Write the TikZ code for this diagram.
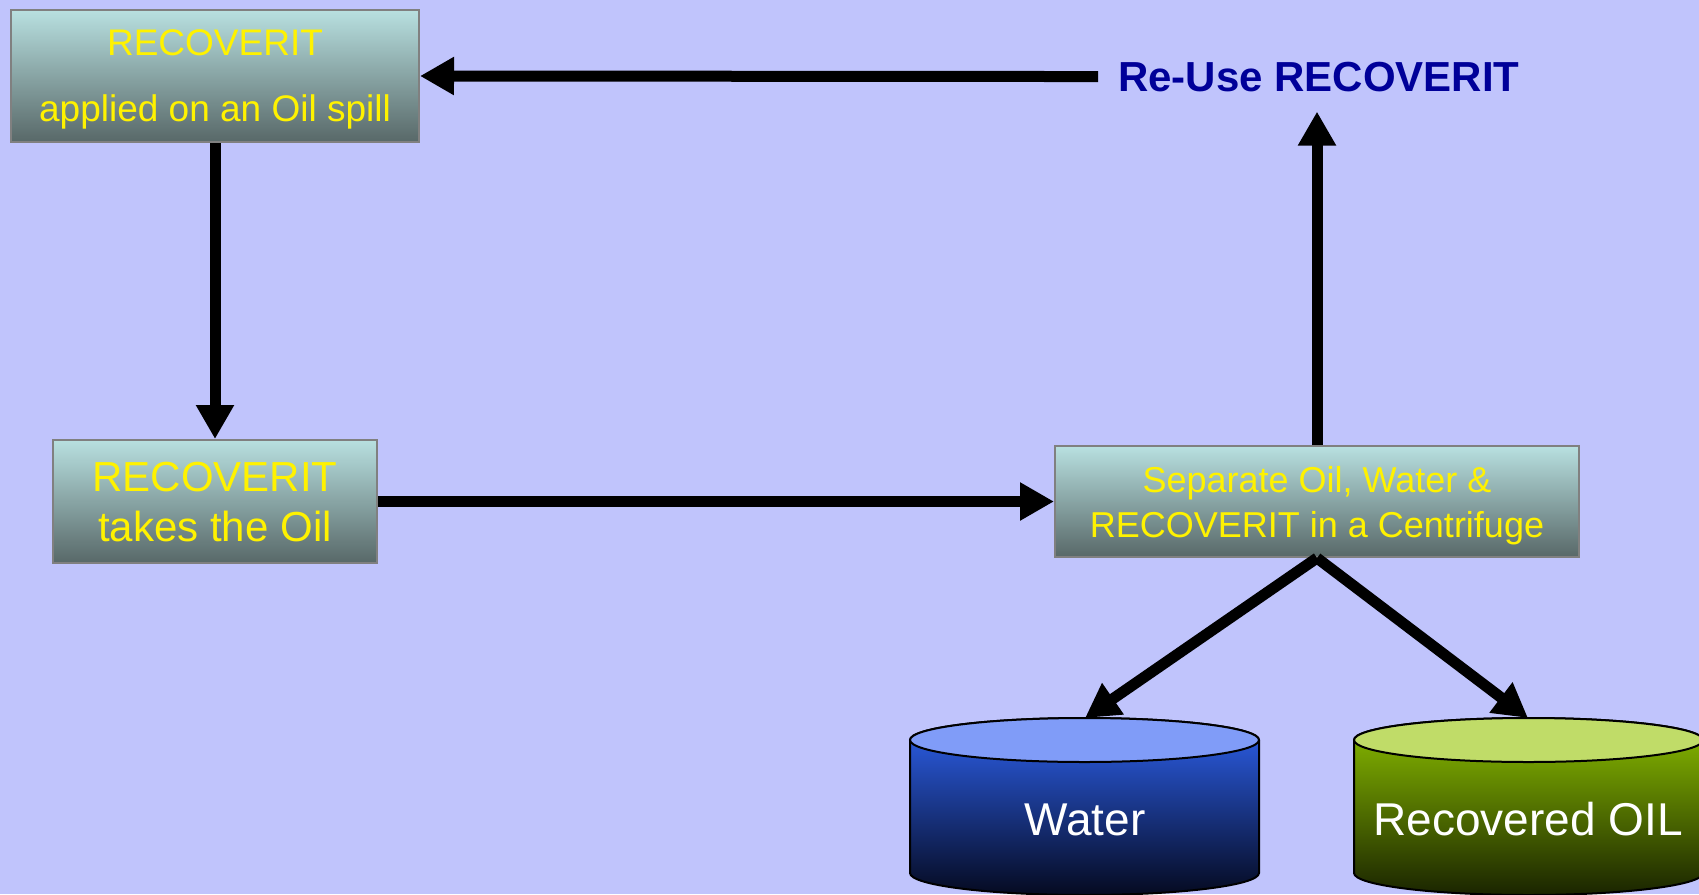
\documentclass[tikz,border=0pt]{standalone}
\usepackage{fontspec}
\setmainfont{Liberation Sans}
\usetikzlibrary{arrows.meta,positioning,calc}
\usepackage{xcolor}

\definecolor{bgblue}{RGB}{192,196,252}
\definecolor{boxtop}{RGB}{184,224,224}
\definecolor{boxmid}{RGB}{150,186,188}
\definecolor{boxbot}{RGB}{88,104,104}
\definecolor{boxedge}{RGB}{128,128,128}
\definecolor{reuseblue}{RGB}{0,0,153}
\definecolor{watertop}{RGB}{128,156,248}
\definecolor{waterhi}{RGB}{46,98,240}
\definecolor{watermid}{RGB}{38,74,196}
\definecolor{waterlo}{RGB}{5,10,32}
\definecolor{oiltop}{RGB}{192,220,104}
\definecolor{oilhi}{RGB}{140,192,0}
\definecolor{oilmid}{RGB}{112,156,0}
\definecolor{oillo}{RGB}{26,36,0}

\begin{document}
\begin{tikzpicture}[x=1pt, y=1pt,
    procbox/.style={draw=boxedge, line width=2pt, top color=boxtop, middle color=boxmid,
        bottom color=boxbot, text=yellow, align=center, inner sep=0pt, text depth=0pt},
    flow/.style={line width=11pt, -{Triangle[length=34pt,width=36pt]}},
    tankside/.style={draw=black, line width=2pt},
    tanklabel/.style={text=white, anchor=base, font=\fontsize{46}{50}\selectfont}
  ]
    % Background
    \fill[bgblue] (0,0) rectangle (1699,-894);
    \useasboundingbox (0,0) rectangle (1699,-894);

    % Process boxes
    \node[procbox, minimum width=408pt, minimum height=132pt,
        font=\fontsize{37}{66}\selectfont] (apply) at (215,-76)
        {RECOVERIT\\applied on an Oil spill};
    \node[procbox, minimum width=324pt, minimum height=123pt,
        font=\fontsize{42}{50}\selectfont] (take) at (215,-501.5)
        {RECOVERIT\\takes the Oil};
    \node[procbox, minimum width=524pt, minimum height=111pt,
        font=\fontsize{36}{45}\selectfont] (sep) at (1317,-501.5)
        {Separate Oil, Water \&\\RECOVERIT in a Centrifuge};

    % Re-use label
    \node[text=reuseblue, anchor=base, inner sep=20pt,
        font=\fontsize{42}{48}\selectfont\bfseries] (reuse) at (1319,-91)
        {Re-Use RECOVERIT};

    % Water tank
    \draw[tankside, top color=waterhi, middle color=watermid, bottom color=waterlo]
        (910,-740) -- (910,-873)
        arc[start angle=180, end angle=360, x radius=174.5, y radius=22]
        -- (1259,-740)
        arc[start angle=0, end angle=180, x radius=174.5, y radius=22] -- cycle;
    \draw[tankside, fill=watertop] (1084.5,-740) ellipse [x radius=174.5, y radius=22];
    \coordinate (waterin) at (1085,-718);
    \node[tanklabel] (water) at (1085,-835) {Water};

    % Oil tank
    \draw[tankside, top color=oilhi, middle color=oilmid, bottom color=oillo]
        (1354,-740) -- (1354,-873)
        arc[start angle=180, end angle=360, x radius=174.5, y radius=22]
        -- (1703,-740)
        arc[start angle=0, end angle=180, x radius=174.5, y radius=22] -- cycle;
    \draw[tankside, fill=oiltop] (1528.5,-740) ellipse [x radius=174.5, y radius=22];
    \coordinate (oilin) at (1528,-718);
    \node[tanklabel] (oil) at (1528,-835) {Recovered OIL};

    % Flow arrows
    \draw[flow] (apply.south) -- (take.north);
    \draw[flow] (take.east) -- (sep.west);
    \draw[flow] (sep.north) -- (sep.north |- reuse.south);
    \draw[flow] (reuse.west) -- (apply.east);
    \draw[flow] (sep.south) -- (waterin);
    \draw[flow] (sep.south) -- (oilin);
\end{tikzpicture}
\end{document}
